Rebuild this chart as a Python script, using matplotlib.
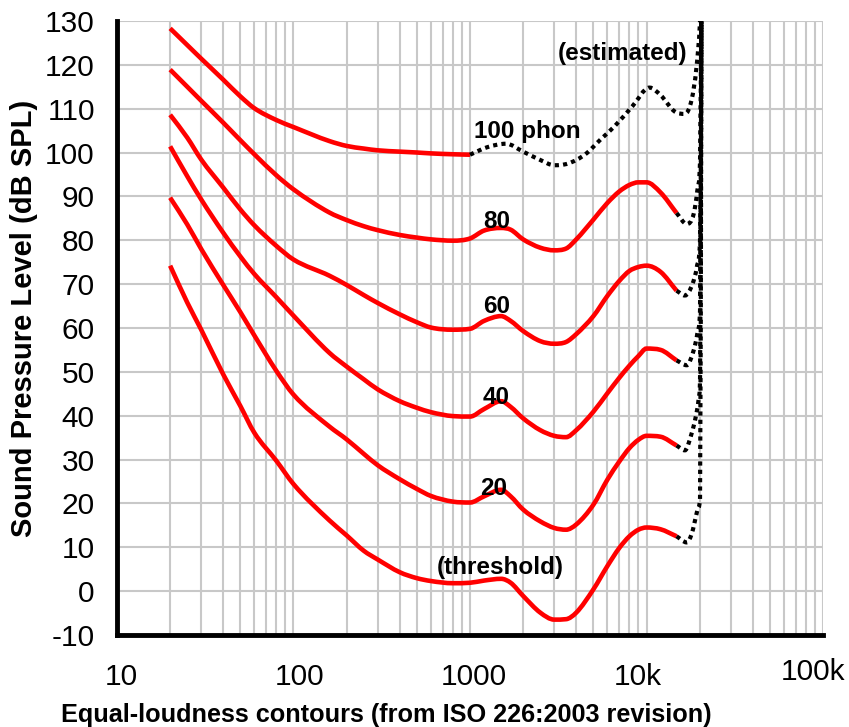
import numpy as np
import matplotlib
matplotlib.use("Agg")
import matplotlib.pyplot as plt
import matplotlib.transforms as mtransforms
from matplotlib.path import Path
from matplotlib.patches import PathPatch
from matplotlib.ticker import FixedLocator, LogLocator, NullFormatter

# frequencies (Hz) where the red contours were read
freq = [20, 25, 30, 40, 50, 60, 80, 100, 160, 200, 250, 300, 400, 500, 600, 800,
        1000, 1200, 1500, 1700, 2000, 2500, 3000, 3500, 4000, 5000, 6000, 7000,
        8000, 9000, 10000, 12000, 14800]

# sound pressure level (dB SPL) of each contour
phon100 = [128.3, 124.5, 121.4, 116.6, 112.8, 110.1, 107.4, 105.8, 102.6, 101.5, 100.9,
           100.5, 100.2, 100, 99.8, 99.6, 99.5]
phon80 = [118.9, 115.0, 111.8, 106.8, 102.8, 99.6, 94.8, 91.6, 86.3, 84.6, 83.2, 82.3,
          81.2, 80.6, 80.2, 79.9, 80.4, 82.2, 82.8, 82.4, 80.2, 78.3, 77.7, 78.1,
          80.2, 84.7, 88.5, 91.1, 92.6, 93.2, 93.2, 90.9, 86.2]
phon60 = [108.6, 103.4, 98.4, 92, 87, 83.4, 78.7, 75.6, 71.9, 69.8, 67.5, 65.7, 63.1, 61.3,
          60.1, 59.6, 59.8, 61.6, 62.7, 61.6, 59.3, 57, 56.4, 56.8, 58.6, 62.7, 67.3,
          70.7, 73, 73.9, 74.2, 72.8, 68.5]
phon40 = [101.4, 94.6, 89.3, 81.7, 76.3, 72.3, 67.0, 62.8, 54.3, 51.2, 48.3, 46, 43.3,
          41.8, 40.8, 39.9, 39.8, 41.5, 43.3, 42, 39.4, 36.7, 35.4, 35.1, 36.7, 40.9,
          45.1, 48.6, 51.4, 53.6, 55.3, 55.0, 52.6]
phon20 = [89.7, 83.6, 78, 69.8, 63.6, 58.3, 50.2, 44.8, 37.5, 34.6, 31.3, 28.7, 25.5,
          23.3, 21.7, 20.4, 20.2, 21.6, 23.1, 21.6, 18.6, 15.9, 14.4, 14, 15.2, 19.7,
          25.4, 29.5, 32.6, 34.5, 35.4, 35.2, 33.2]
threshold = [74.2, 65.8, 59.6, 49.4, 42.2, 36.1, 29.7, 24.4, 16.1, 12.7, 9.2, 7.2, 4.3,
             2.95, 2.3, 1.8, 1.9, 2.4, 2.8, 1.9, -1.1, -4.9, -6.5, -6.4, -4.9, 0.4,
             5.7, 9.8, 12.5, 14, 14.5, 14.1, 12.5]

# estimated (dotted) parts
est100_f = [1000, 1250, 1600, 2000, 2500, 3000, 3600, 4500, 5500, 6600, 8300, 10400,
            12000, 14500, 16500, 18000, 19200, 20100, 20500]
est100 = [99.5, 101.2, 102, 100.2, 98.3, 97.1, 97.5, 99.6, 103, 106, 110.5, 114.8,
          113.1, 109.3, 108.8, 112, 119.5, 130, 140]
est80_f = [14800, 16900, 18500, 19400, 20100, 20500]
est80 = [86.2, 83.7, 86, 91.3, 98, 140]
est60_f = [14800, 16500, 18200, 19300, 20100, 20500]
est60 = [68.5, 67.4, 70, 74, 80, 140]
est40_f = [14800, 16900, 18500, 19400, 20100, 20500]
est40 = [52.6, 51.5, 54.9, 58.7, 64, 140]
est20_f = [14800, 16500, 18000, 19000, 19700, 20100, 20500]
est20 = [33.2, 32.1, 35.9, 39.7, 43.5, 48, 140]
est0_f = [14800, 16900, 18000, 19400, 20100, 20500]
est0 = [12.5, 11.1, 13, 18.4, 21, 140]

tick_f = [10, 100, 1000, 10000, 100000]
tick_labels = ['10', '100', '1000', '10k', '100k']


def smooth_path(xs, ys):
    # smoothed line through the read points (log-x), monotone cubic segments
    lx = np.log10(np.asarray(xs, float))
    y = np.asarray(ys, float)
    d = np.diff(y) / np.diff(lx)
    m = np.empty(len(y))
    m[0], m[-1] = d[0], d[-1]
    for i in range(1, len(y) - 1):
        if d[i - 1] * d[i] <= 0:
            m[i] = 0.0
        else:
            s = 0.5 * (d[i - 1] + d[i])
            lim = 3 * min(abs(d[i - 1]), abs(d[i]))
            m[i] = np.sign(s) * min(abs(s), lim)
    verts = [(lx[0], y[0])]
    codes = [Path.MOVETO]
    for i in range(len(y) - 1):
        h = lx[i + 1] - lx[i]
        verts += [(lx[i] + h / 3, y[i] + m[i] * h / 3),
                  (lx[i + 1] - h / 3, y[i + 1] - m[i + 1] * h / 3),
                  (lx[i + 1], y[i + 1])]
        codes += [Path.CURVE4] * 3
    return Path([(10 ** a, b) for a, b in verts], codes)


plt.rcParams['font.family'] = ['Liberation Sans', 'DejaVu Sans']
plt.rcParams['axes.unicode_minus'] = False

fig = plt.figure(figsize=(8.49, 7.27), dpi=100)
ax = fig.add_axes([0.1378, 0.1266, 0.8316, 0.8446])
ax.set_xscale('log')
ax.set_xlim(10, 100000)
ax.set_ylim(-10, 130)
ax.xaxis.set_major_locator(FixedLocator(tick_f))
ax.set_xticklabels(tick_labels)
ax.xaxis.set_minor_locator(LogLocator(base=10, subs=range(2, 10), numticks=20))
ax.xaxis.set_minor_formatter(NullFormatter())
ax.set_yticks(range(-10, 131, 10))
ax.grid(True, which='both', axis='x', color='#c8c8c8', lw=1.5)
ax.grid(True, which='major', axis='y', color='#c8c8c8', lw=1.5)
ax.set_axisbelow(True)
for s in ['top', 'right']:
    ax.spines[s].set_visible(False)
for s in ['left', 'bottom']:
    ax.spines[s].set_linewidth(3.5)
ax.tick_params(which='both', length=0, labelsize=21.5)
ax.tick_params(axis='x', pad=20)
ax.tick_params(axis='y', pad=16)

# small nudges of the x tick labels, as in the original
nudge = [4, 6, 4, -9, -10]
for lab, dx in zip(ax.get_xticklabels(), nudge):
    dy = 5 if lab.get_text() == '100k' else 0
    lab.set_transform(lab.get_transform() +
                      mtransforms.ScaledTranslation(dx / 100, dy / 100, fig.dpi_scale_trans))

ax.add_patch(PathPatch(smooth_path(freq[:len(phon100)], phon100), fill=False,
                       edgecolor='red', lw=3.3, zorder=3))
for curve in [phon80, phon60, phon40, phon20, threshold]:
    ax.add_patch(PathPatch(smooth_path(freq, curve), fill=False,
                           edgecolor='red', lw=3.3, zorder=3))

for fx, vy in [(est100_f, est100), (est80_f, est80), (est60_f, est60),
               (est40_f, est40), (est20_f, est20), (est0_f, est0)]:
    ax.add_patch(PathPatch(smooth_path(fx, vy), fill=False, edgecolor='black',
                           lw=3, ls=(0, (1, 1)), zorder=4))

lab = dict(fontsize=17.5, fontweight='bold', ha='left', va='baseline', zorder=5)
ax.text(1050, 103.2, '100 phon', **lab)
ax.text(1186, 82.7, '80', **lab)
ax.text(1186, 63.3, '60', **lab)
ax.text(1186, 42.7, '40', **lab)
ax.text(1144, 21.8, '20', **lab)
ax.text(649, 3.9, '(threshold)', **lab)
ax.text(3148, 121.0, '(estimated)', **lab)

fig.text(386 / 849, 1 - 715 / 727, 'Equal-loudness contours (from ISO 226:2003 revision)',
         fontsize=18.2, fontweight='bold', ha='center', va='center')
fig.text(24 / 849, 1 - 318 / 727, 'Sound Pressure Level (dB SPL)',
         fontsize=21, fontweight='bold', ha='center', va='center', rotation=90)

fig.savefig('out.png', dpi=100)
